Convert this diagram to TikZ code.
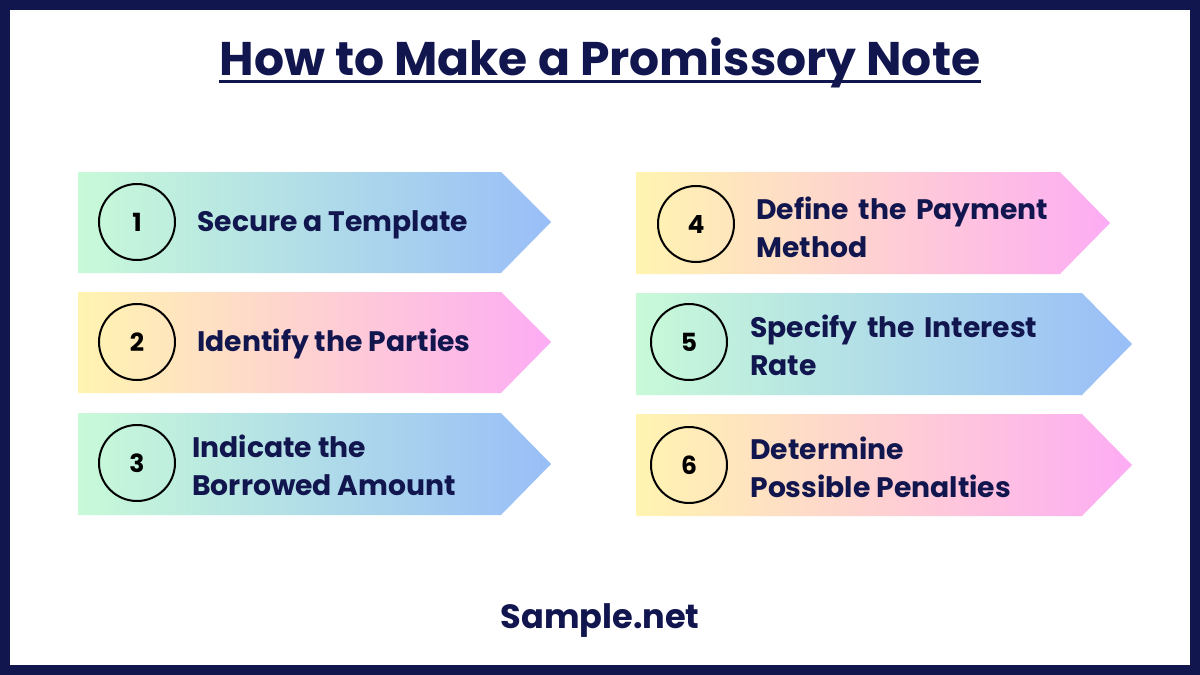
\documentclass[tikz,border=0pt]{standalone}
\usepackage{fontspec}
\setmainfont{Poppins}
\usepackage{xcolor}
\usepackage{tikz}
\usetikzlibrary{positioning,calc}

\definecolor{navy}{HTML}{12164F}
\definecolor{mint}{HTML}{C8FAD8}
\definecolor{sky}{HTML}{99BEF8}
\definecolor{lemon}{HTML}{FFF4B0}
\definecolor{rose}{HTML}{FDACF4}

\newcommand\widegaps{\spaceskip=1.6\fontdimen2\font\relax}

\tikzset{
  cool/.style={left color=mint, right color=sky},
  warm/.style={left color=lemon, right color=rose},
  num/.style={circle, draw=black, line width=1pt, minimum size=38pt, inner sep=0pt,
    font=\fontsize{12.5}{14}\selectfont\bfseries, text=black},
  label/.style={anchor=west, align=left, inner sep=0pt, text=navy,
    font=\fontsize{14.1}{19}\selectfont\bfseries}
}

\begin{document}
\begin{tikzpicture}[x=0.5pt, y=-0.5pt]
\useasboundingbox (0,0) rectangle (1200,675);
% frame
\fill[navy] (0,0) rectangle (1200,675);
\fill[white] (10,10) rectangle (1190,665);

% title
\node[inner sep=0pt, anchor=base, text=navy, font=\fontsize{23.6}{28}\selectfont\bfseries]
  (title) at (600,75) {How to Make a Promissory Note};
\draw[navy, line width=1.5pt] ([yshift=-3pt]title.base west) -- ([yshift=-3pt]title.base east);

% arrows, left column
\shade[cool] (78,172) -- (501,172) -- (551,222) -- (501,273) -- (78,273) -- cycle;
\shade[warm] (78,292) -- (501,292) -- (551,342) -- (501,393) -- (78,393) -- cycle;
\shade[cool] (78,413) -- (501,413) -- (551,464) -- (501,515) -- (78,515) -- cycle;

% arrows, right column
\shade[warm] (636,172) -- (1060,172) -- (1110,223) -- (1060,274) -- (636,274) -- cycle;
\shade[cool] (636,293) -- (1082,293) -- (1132,344) -- (1082,395) -- (636,395) -- cycle;
\shade[warm] (636,414) -- (1082,414) -- (1132,465) -- (1082,516) -- (636,516) -- cycle;

% numbers
\node[num] (n1) at (137,222) {1};
\node[num] (n2) at (137,342) {2};
\node[num] (n3) at (137,463) {3};
\node[num] (n4) at (696,224) {4};
\node[num] (n5) at (689,342) {5};
\node[num] (n6) at (689,465) {6};

% step texts
\node[label] (t1) at (197,225) {Secure a Template};
\node[label] (t2) at (197,344) {Identify the Parties};
\node[label] (t3) at (192,465) {Indicate the\\Borrowed Amount};
\node[label] (t4) at (756,227) {\widegaps Define the Payment\\Method};
\node[label] (t5) at (750,345) {\widegaps Specify the Interest\\Rate};
\node[label] (t6) at (750,467) {Determine\\Possible Penalties};

% footer
\node[inner sep=0pt, text=navy, font=\fontsize{16.8}{19}\selectfont\bfseries]
  (site) at (600,621) {Sample.net};
\end{tikzpicture}
\end{document}
